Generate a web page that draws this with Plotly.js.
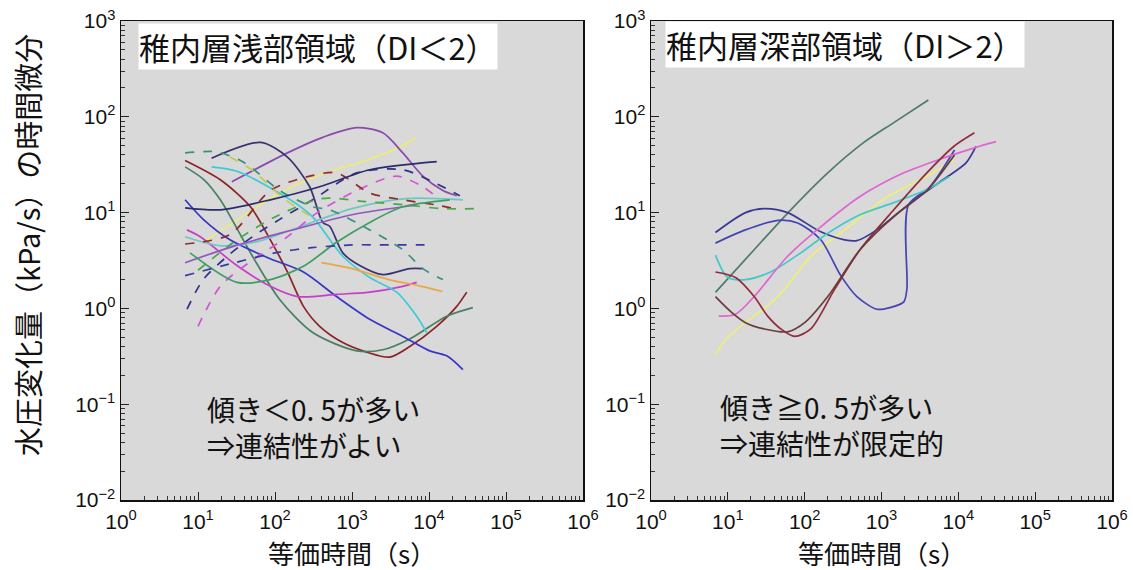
<!DOCTYPE html>
<html><head><meta charset="utf-8">
<script src="https://cdn.plot.ly/plotly-3.0.1.min.js"></script>
<style>html,body{margin:0;padding:0;background:#fff}#chart{width:1133px;height:570px}</style>
</head><body><div id="chart"></div>
<script>
// ---- tick labels ----
const xTickVals = [1, 10, 100, 1000, 10000, 100000, 1000000];
const xTickText = ['10<sup>0</sup>','10<sup>1</sup>','10<sup>2</sup>','10<sup>3</sup>','10<sup>4</sup>','10<sup>5</sup>','10<sup>6</sup>'];
const yTickVals = [0.01, 0.1, 1, 10, 100, 1000];
const yTickText = ['10<sup>−2</sup>','10<sup>−1</sup>','10<sup>0</sup>','10<sup>1</sup>','10<sup>2</sup>','10<sup>3</sup>'];

// ---- left panel: shallow region (DI<2) ----
const L1_x = [27.5, 145, 417, 1150, 2510, 4570, 8320, 15140, 22900];
const L1_y = [21, 42, 61, 77, 68, 42, 24, 17, 15];
const L2_x = [15, 65, 145, 282, 417, 513, 759, 1260, 2510, 5620, 8320];
const L2_y = [37, 54, 38, 18.6, 7.9, 7.2, 3.8, 2.8, 2.25, 2.6, 2.6];
const L3_x = [6.8, 19.5, 48, 87, 145, 234, 380, 759, 1550, 3090, 5620, 12590, 22900, 30900];
const L3_y = [35, 22, 11.5, 5.2, 2.4, 1.05, 0.65, 0.44, 0.35, 0.31, 0.40, 0.65, 1.05, 1.48];
const L4_x = [6.8, 12, 19.5, 51, 115, 309, 1150, 2510, 5620, 16980, 37150];
const L4_y = [30, 22, 13.6, 3.5, 1.24, 0.56, 0.36, 0.37, 0.48, 0.83, 1.02];
const L5_x = [6.8, 11.7, 26, 87, 234, 631, 1700, 4570, 10230, 16980, 27540];
const L5_y = [13.6, 8.5, 5.2, 3.3, 2.4, 1.33, 0.77, 0.51, 0.36, 0.32, 0.23];
const L6_x = [7.2, 10.7, 32, 87, 195, 631, 1700, 4570, 6920];
const L6_y = [6.6, 5.6, 2.8, 1.7, 1.33, 1.4, 1.48, 1.7, 1.87];
const L7_x = [15, 32, 100, 250, 330, 759, 1700, 3800, 6920, 9330];
const L7_y = [30, 27, 17, 10.5, 8.5, 3.5, 2.1, 1.48, 0.83, 0.56];
const L8_x = [6.8, 20, 60, 200, 1000, 5000, 27540];
const L8_y = [5.6, 4.5, 5, 7, 11, 14, 13.6];
const L9_x = [6.8, 17.8, 35.5, 48, 115, 309, 513, 1700, 4570, 8320, 15140];
const L9_y = [42, 43, 35, 30, 17, 11.5, 10.7, 6.6, 4.1, 2.6, 2.0];
const L10_x = [7.2, 11.7, 24, 51, 115, 309, 1150, 4570, 12590, 25120];
const L10_y = [0.98, 2.0, 3.5, 5.6, 8.5, 13.6, 26, 28, 20, 15];
const L11_x = [10, 19.5, 51, 145, 355, 1150, 3800, 8320, 13800];
const L11_y = [0.65, 1.7, 3.2, 5.6, 10, 17, 24, 18.6, 13.6];
const L12_x = [6.8, 26, 87, 282, 631, 1700, 4570, 12590, 25120];
const L12_y = [4.7, 5.9, 17, 24, 26, 16, 13.6, 12, 10.7];
const L13_x = [10, 30, 100, 400, 1500, 5000, 15000, 40000];
const L13_y = [2.5, 5, 9, 14, 13, 12, 11, 11];
const L14_x = [12, 30, 100, 400, 1500, 4570, 6920];
const L14_y = [5, 8, 15, 25, 35, 50, 62];
const L15_x = [26, 50, 80, 130, 300];
const L15_y = [38, 28, 20, 14, 9];
const L16_x = [6.8, 19.5, 87, 380, 1700, 12590];
const L16_y = [11.2, 10.7, 13.6, 18.6, 28, 34];
const L17_x = [6.8, 30, 160, 1000, 6920];
const L17_y = [3.0, 4.5, 6.5, 9.5, 12];
const L18_x = [7.9, 32, 87, 234, 631, 1700, 4570, 18620];
const L18_y = [3.8, 1.87, 2.0, 2.75, 4.9, 7.9, 11.5, 13.6];
const L19_x = [400, 1000, 3000, 8000, 15000];
const L19_y = [3.0, 2.6, 2.0, 1.7, 1.5];
const L20_x = [6.8, 30, 100, 300, 1000, 3000, 10000];
const L20_y = [2.2, 3.0, 3.8, 4.3, 4.6, 4.6, 4.6];

// ---- right panel: deep region (DI>2) ----
const R1_x = [6.9, 22, 66, 200, 589, 1445, 4070];
const R1_y = [1.47, 4.1, 10.7, 26, 54, 87, 150];
const R2_x = [6.9, 17, 30, 60, 162, 331, 479, 871, 2340, 6310, 12590, 16980];
const R2_y = [6.2, 10, 11, 10, 6.3, 5.2, 5.1, 6.6, 12.5, 22, 33, 49];
const R3_x = [6.9, 17, 45, 81, 162, 295, 479, 871, 1290, 1950, 2140, 2240, 4270, 8910];
const R3_y = [4.8, 6.6, 8.3, 7.8, 5.2, 2.2, 1.33, 0.98, 1.02, 1.17, 1.6, 12, 18.6, 45];
const R4_x = [6.9, 10, 17, 36, 89, 200, 525, 1445, 3890, 7590];
const R4_y = [3.6, 2.1, 2.0, 2.4, 3.8, 6.1, 9.5, 12.7, 17.4, 23.7];
const R5_x = [7.6, 12.6, 22, 60, 162, 525, 1950, 6310, 16980, 30900];
const R5_y = [0.83, 0.87, 1.33, 3.5, 7.1, 14.7, 26, 37, 48, 55];
const R6_x = [6.9, 10, 45, 120, 331, 1070, 3890, 8710];
const R6_y = [0.33, 0.5, 1.33, 3.5, 6.6, 13.8, 24, 35];
const R7_x = [6.9, 12.6, 22, 33, 49, 74, 120, 245, 525, 1445, 3890, 8710, 16220];
const R7_y = [2.4, 2.1, 1.33, 0.83, 0.61, 0.51, 0.61, 1.58, 4.1, 10.7, 26, 49, 68];
const R8_x = [6.9, 11.2, 17, 30, 60, 100, 200, 525, 1445, 3890, 8910];
const R8_y = [1.33, 0.91, 0.71, 0.61, 0.57, 0.71, 1.33, 4.1, 9.1, 17, 40];

const leftSeries = [
  {x:L14_x, y:L14_y, c:'#ecec74', d:'solid'},
  {x:L1_x, y:L1_y, c:'#8a4aae', d:'solid'},
  {x:L2_x, y:L2_y, c:'#3b3272', d:'solid'},
  {x:L3_x, y:L3_y, c:'#8b2424', d:'solid'},
  {x:L4_x, y:L4_y, c:'#4a8062', d:'solid'},
  {x:L5_x, y:L5_y, c:'#3636c8', d:'solid'},
  {x:L6_x, y:L6_y, c:'#c83ec8', d:'solid'},
  {x:L7_x, y:L7_y, c:'#3ccbd8', d:'solid'},
  {x:L8_x, y:L8_y, c:'#6cc8c0', d:'solid'},
  {x:L9_x, y:L9_y, c:'#3a8f80', d:'dash'},
  {x:L10_x, y:L10_y, c:'#30308a', d:'dash'},
  {x:L11_x, y:L11_y, c:'#d455d4', d:'dash'},
  {x:L12_x, y:L12_y, c:'#902c2c', d:'dash'},
  {x:L13_x, y:L13_y, c:'#4aa84a', d:'dash'},
  {x:L15_x, y:L15_y, c:'#c8c850', d:'dash'},
  {x:L16_x, y:L16_y, c:'#2c2c6c', d:'solid'},
  {x:L17_x, y:L17_y, c:'#9454c4', d:'solid'},
  {x:L18_x, y:L18_y, c:'#3f9f62', d:'solid'},
  {x:L19_x, y:L19_y, c:'#e8a848', d:'solid'},
  {x:L20_x, y:L20_y, c:'#3a3aa4', d:'dash'}
];
const rightSeries = [
  {x:R6_x, y:R6_y, c:'#eeee78', d:'solid'},
  {x:R1_x, y:R1_y, c:'#4d7b6c', d:'solid'},
  {x:R2_x, y:R2_y, c:'#3a3a96', d:'solid'},
  {x:R3_x, y:R3_y, c:'#4444b4', d:'solid'},
  {x:R4_x, y:R4_y, c:'#44c8c8', d:'solid'},
  {x:R5_x, y:R5_y, c:'#e064d4', d:'solid'},
  {x:R7_x, y:R7_y, c:'#922c3c', d:'solid'},
  {x:R8_x, y:R8_y, c:'#6a3c3c', d:'solid'}
];

const traces = [];
leftSeries.forEach(s => traces.push({x:s.x, y:s.y, type:'scatter', mode:'lines', xaxis:'x', yaxis:'y',
  line:{color:s.c, width:1.7, dash:s.d, shape:'spline', smoothing:0.8}, hoverinfo:'skip', showlegend:false}));
rightSeries.forEach(s => traces.push({x:s.x, y:s.y, type:'scatter', mode:'lines', xaxis:'x2', yaxis:'y2',
  line:{color:s.c, width:1.7, dash:s.d, shape:'spline', smoothing:0.8}, hoverinfo:'skip', showlegend:false}));

const W = 1133, H = 570;
const px = v => v / W, py = v => 1 - v / H;
const tickFont = {family:'Liberation Sans, Arial, sans-serif', size:21, color:'#111'};
function xAx(dom, anchor) {
  return {type:'log', domain:dom, anchor:anchor, range:[0,6], tickmode:'array', tickvals:xTickVals, ticktext:xTickText,
    ticks:'inside', ticklen:8, tickwidth:1, tickcolor:'#222', showline:true, linecolor:'#111', linewidth:1.5, mirror:true,
    showgrid:false, zeroline:false, tickfont:tickFont, ticklabelstandoff:2,
    minor:{ticks:'inside', ticklen:4, tickwidth:1, tickcolor:'#333', dtick:'D1', showgrid:false}};
}
function yAx(dom, anchor) {
  return {type:'log', domain:dom, anchor:anchor, range:[-2,3], tickmode:'array', tickvals:yTickVals, ticktext:yTickText,
    ticks:'inside', ticklen:8, tickwidth:1, tickcolor:'#222', showline:true, linecolor:'#111', linewidth:1.5, mirror:true,
    showgrid:false, zeroline:false, tickfont:tickFont,
    minor:{ticks:'inside', ticklen:4, tickwidth:1, tickcolor:'#333', dtick:'D1', showgrid:false}};
}
const yDom = [1 - 500/H, 1 - 21/H];
const cjk = 'Noto Sans CJK JP, sans-serif';
const ann = (text, x, y, size, extra) => Object.assign({text:text, xref:'paper', yref:'paper', x:px(x), y:py(y),
  xanchor:'left', yanchor:'middle', showarrow:false, font:{family:cjk, size:size, color:'#111'}}, extra || {});
const layout = {
  width:W, height:H, margin:{l:0, r:0, t:0, b:0}, paper_bgcolor:'#ffffff', plot_bgcolor:'#d9d9d9',
  xaxis: xAx([px(121), px(583)], 'y'),
  yaxis: yAx(yDom, 'x'),
  xaxis2: xAx([px(651), px(1112)], 'y2'),
  yaxis2: yAx(yDom, 'x2'),
  annotations: [
    ann('水圧変化量（kPa/s）の時間微分', 27, 245, 29, {xanchor:'center', textangle:-90}),
    ann('等価時間（s）', 352, 552, 26, {xanchor:'center'}),
    ann('等価時間（s）', 882, 552, 26, {xanchor:'center'}),
    ann('稚内層浅部領域（DI＜2）', 138, 46, 31, {bgcolor:'#ffffff', borderpad:0}),
    ann('稚内層深部領域（DI＞2）', 665, 44, 31, {bgcolor:'#ffffff', borderpad:0}),
    ann('傾き＜0. 5が多い<br>⇒連結性がよい', 205, 427, 28, {align:'left'}),
    ann('傾き≧0. 5が多い<br>⇒連結性が限定的', 718, 425, 28, {align:'left'})
  ]
};
Plotly.newPlot('chart', traces, layout, {staticPlot:true, displayModeBar:false});
</script></body></html>
